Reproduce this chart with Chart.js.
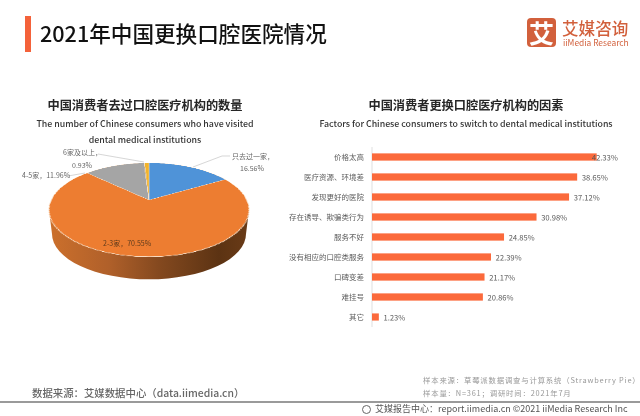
<!DOCTYPE html>
<html>
<head>
<meta charset="utf-8">
<script src="https://cdn.jsdelivr.net/npm/chart.js@4"></script>
<style>
    html, body { margin: 0; padding: 0; background: #fff; }
    #page { position: relative; width: 640px; height: 416px; overflow: hidden; font-family: 'Noto Sans CJK SC', 'Noto Sans', sans-serif; }
    #page div { position: absolute; white-space: nowrap; }
    #page canvas { position: absolute; }
    .center { transform: translateX(-50%); }
    .sub { font-size: 12.2px; font-weight: 700; color: #262626; }
    .en { font-size: 8.8px; font-weight: 500; color: #333; }
    .lbl { font-size: 7px; color: #666; line-height: 10px; }
</style>
</head>
<body>
<div id="page">
    <canvas id="backLayer" width="640" height="416" style="left:0;top:0;"></canvas>
    <canvas id="pieChart" width="240" height="240" style="left:29px;top:80px;width:240px;height:240px;transform-origin:50% 50%;transform:perspective(414px) rotateX(62.7deg);"></canvas>
    <canvas id="barChart" width="357" height="180" style="left:280px;top:147px;width:357px;height:180px;"></canvas>

    <div style="left:25px;top:16px;width:6px;height:36px;background:#f4623a;"></div>
    <div style="left:40px;top:17px;font-size:21.6px;line-height:32px;color:#111;font-weight:500;">2021年中国更换口腔医院情况</div>

    <div style="left:527px;top:18px;width:29px;height:29px;border-radius:4px;background:#d2603c;color:#fff;font-size:25px;font-weight:700;line-height:28px;text-align:center;">艾</div>
    <div style="left:562px;top:16px;font-size:16.6px;line-height:24px;font-weight:500;color:#d2603c;">艾媒咨询</div>
    <div style="left:563px;top:36px;font-size:8.4px;line-height:12px;color:#d2603c;">iiMedia Research</div>

    <div class="sub center" style="left:145px;top:96px;line-height:18px;">中国消费者去过口腔医疗机构的数量</div>
    <div class="en center" style="left:145px;top:116px;line-height:16px;">The number of Chinese consumers who have visited</div>
    <div class="en center" style="left:145px;top:132px;line-height:16px;">dental medical institutions</div>
    <div class="sub center" style="left:466px;top:96px;line-height:18px;">中国消费者更换口腔医疗机构的因素</div>
    <div class="en center" style="left:466px;top:116px;line-height:16px;">Factors for Chinese consumers to switch to dental medical institutions</div>

    <div class="lbl" style="left:232px;top:151px;">只去过一家，</div>
    <div class="lbl" style="left:240px;top:163px;">16.56%</div>
    <div class="lbl" style="left:63px;top:147px;">6家及以上，</div>
    <div class="lbl" style="left:72px;top:160px;">0.93%</div>
    <div class="lbl" style="left:22px;top:170px;">4-5家，11.96%</div>
    <div class="lbl" style="left:103px;top:238px;color:#5c3a1c;">2-3家，70.55%</div>

    <div style="left:32px;top:385px;font-size:10.4px;line-height:16px;font-weight:500;color:#666;">数据来源：艾媒数据中心（data.iimedia.cn）</div>
    <div style="left:423px;top:375px;font-size:7.4px;line-height:10px;color:#999;letter-spacing:.8px;">样本来源：草莓派数据调查与计算系统（Strawberry Pie）</div>
    <div style="left:423px;top:388px;font-size:7.4px;line-height:10px;color:#999;letter-spacing:.8px;">样本量：N=361；调研时间：2021年7月</div>
    <div style="left:0;top:401px;width:640px;height:1.5px;background:#9a9a9a;"></div>
    <div style="left:362px;top:405px;width:7px;height:7px;border:1px solid #666;border-radius:50%;"></div>
    <div style="left:375px;top:403px;font-size:9px;line-height:12px;color:#555;">艾媒报告中心：report.iimedia.cn ©2021  iiMedia Research Inc</div>
</div>

<script>
    const FONT = "'Noto Sans CJK SC', 'Noto Sans', sans-serif";

    // pie: share of consumers by number of institutions visited
    const pieCategories = ['只去过一家', '2-3家', '4-5家', '6家及以上'];
    const pieValues = [16.56, 70.55, 11.96, 0.93];
    const pieColors = ['#4f93d8', '#ed7d31', '#a5a5a5', '#f2b42c'];

    // bars: reasons for switching
    const barCategories = ['价格太高', '医疗资源、环境差', '发现更好的医院', '存在诱导、欺骗类行为', '服务不好', '没有相应的口腔类服务', '口碑变差', '难挂号', '其它'];
    const barValues = [42.33, 38.65, 37.12, 30.98, 24.85, 22.39, 21.17, 20.86, 1.23];

    // side wall of the 3D pie and the leader lines sit behind the tilted pie
    function drawBackLayer() {
        const ctx = document.getElementById('backLayer').getContext('2d');
        const wall = ctx.createLinearGradient(49, 0, 249, 0);
        wall.addColorStop(0, '#cc702c');
        wall.addColorStop(0.3, '#b0602a');
        wall.addColorStop(0.55, '#84491f');
        wall.addColorStop(0.85, '#5c3313');
        wall.addColorStop(1, '#6a3b17');
        ctx.fillStyle = wall;
        ctx.beginPath();
        ctx.moveTo(49, 210);
        ctx.lineTo(52, 234);
        ctx.ellipse(149, 234, 97, 45.3, 0, Math.PI, 0, true);
        ctx.lineTo(249, 210);
        ctx.closePath();
        ctx.fill();

        ctx.strokeStyle = '#c4c4c4';
        ctx.lineWidth = 0.7;
        [[[230, 156], [222, 156], [193, 167]], [[98, 154], [144, 162]], [[68, 176], [85, 173]]].forEach(line => {
            ctx.beginPath();
            line.forEach((p, i) => i ? ctx.lineTo(p[0], p[1]) : ctx.moveTo(p[0], p[1]));
            ctx.stroke();
        });
    }

    function drawPie() {
        new Chart(document.getElementById('pieChart'), {
            type: 'pie',
            data: {
                labels: pieCategories,
                datasets: [{
                    data: pieValues,
                    backgroundColor: pieColors,
                    borderColor: '#fbe3cc',
                    borderWidth: 0.8,
                    radius: 97.8
                }]
            },
            options: {
                responsive: false,
                animation: false,
                devicePixelRatio: 3,
                plugins: { legend: { display: false }, tooltip: { enabled: false } }
            }
        });
    }

    // value text at the end of each bar
    const barValueLabels = {
        id: 'barValueLabels',
        afterDatasetsDraw(chart) {
            const ctx = chart.ctx;
            ctx.save();
            ctx.font = '7.6px ' + FONT;
            ctx.fillStyle = '#595959';
            ctx.textBaseline = 'middle';
            chart.getDatasetMeta(0).data.forEach((bar, i) => {
                // the top value's label runs into its bar in the source
                const x = i === 0 ? bar.x - 4.5 : bar.x + 5;
                ctx.fillText(barValues[i].toFixed(2) + '%', x, bar.y + 0.5);
            });
            ctx.restore();
        }
    };

    function drawBars() {
        new Chart(document.getElementById('barChart'), {
            type: 'bar',
            data: {
                labels: barCategories,
                datasets: [{
                    data: barValues,
                    backgroundColor: '#fb6a3c',
                    barThickness: 6.5
                }]
            },
            options: {
                indexAxis: 'y',
                responsive: false,
                maintainAspectRatio: false,
                animation: false,
                devicePixelRatio: 2,
                layout: { padding: 0 },
                plugins: { legend: { display: false }, tooltip: { enabled: false } },
                scales: {
                    x: { display: false, min: 0, max: 50 },
                    y: {
                        // tick padding would otherwise eat into the top and bottom of the plot
                        afterFit(scale) {
                            scale.width = 92;
                            scale.paddingTop = 0;
                            scale.paddingBottom = 0;
                        },
                        grid: { drawOnChartArea: false, drawTicks: false, color: '#d9d9d9' },
                        border: { color: '#dedede' },
                        ticks: {
                            color: '#595959',
                            padding: 8,
                            autoSkip: false,
                            font: { family: FONT, size: 7.5 }
                        }
                    }
                }
            },
            plugins: [barValueLabels]
        });
    }

    drawBackLayer();
    drawPie();
    drawBars();
</script>
</body>
</html>
